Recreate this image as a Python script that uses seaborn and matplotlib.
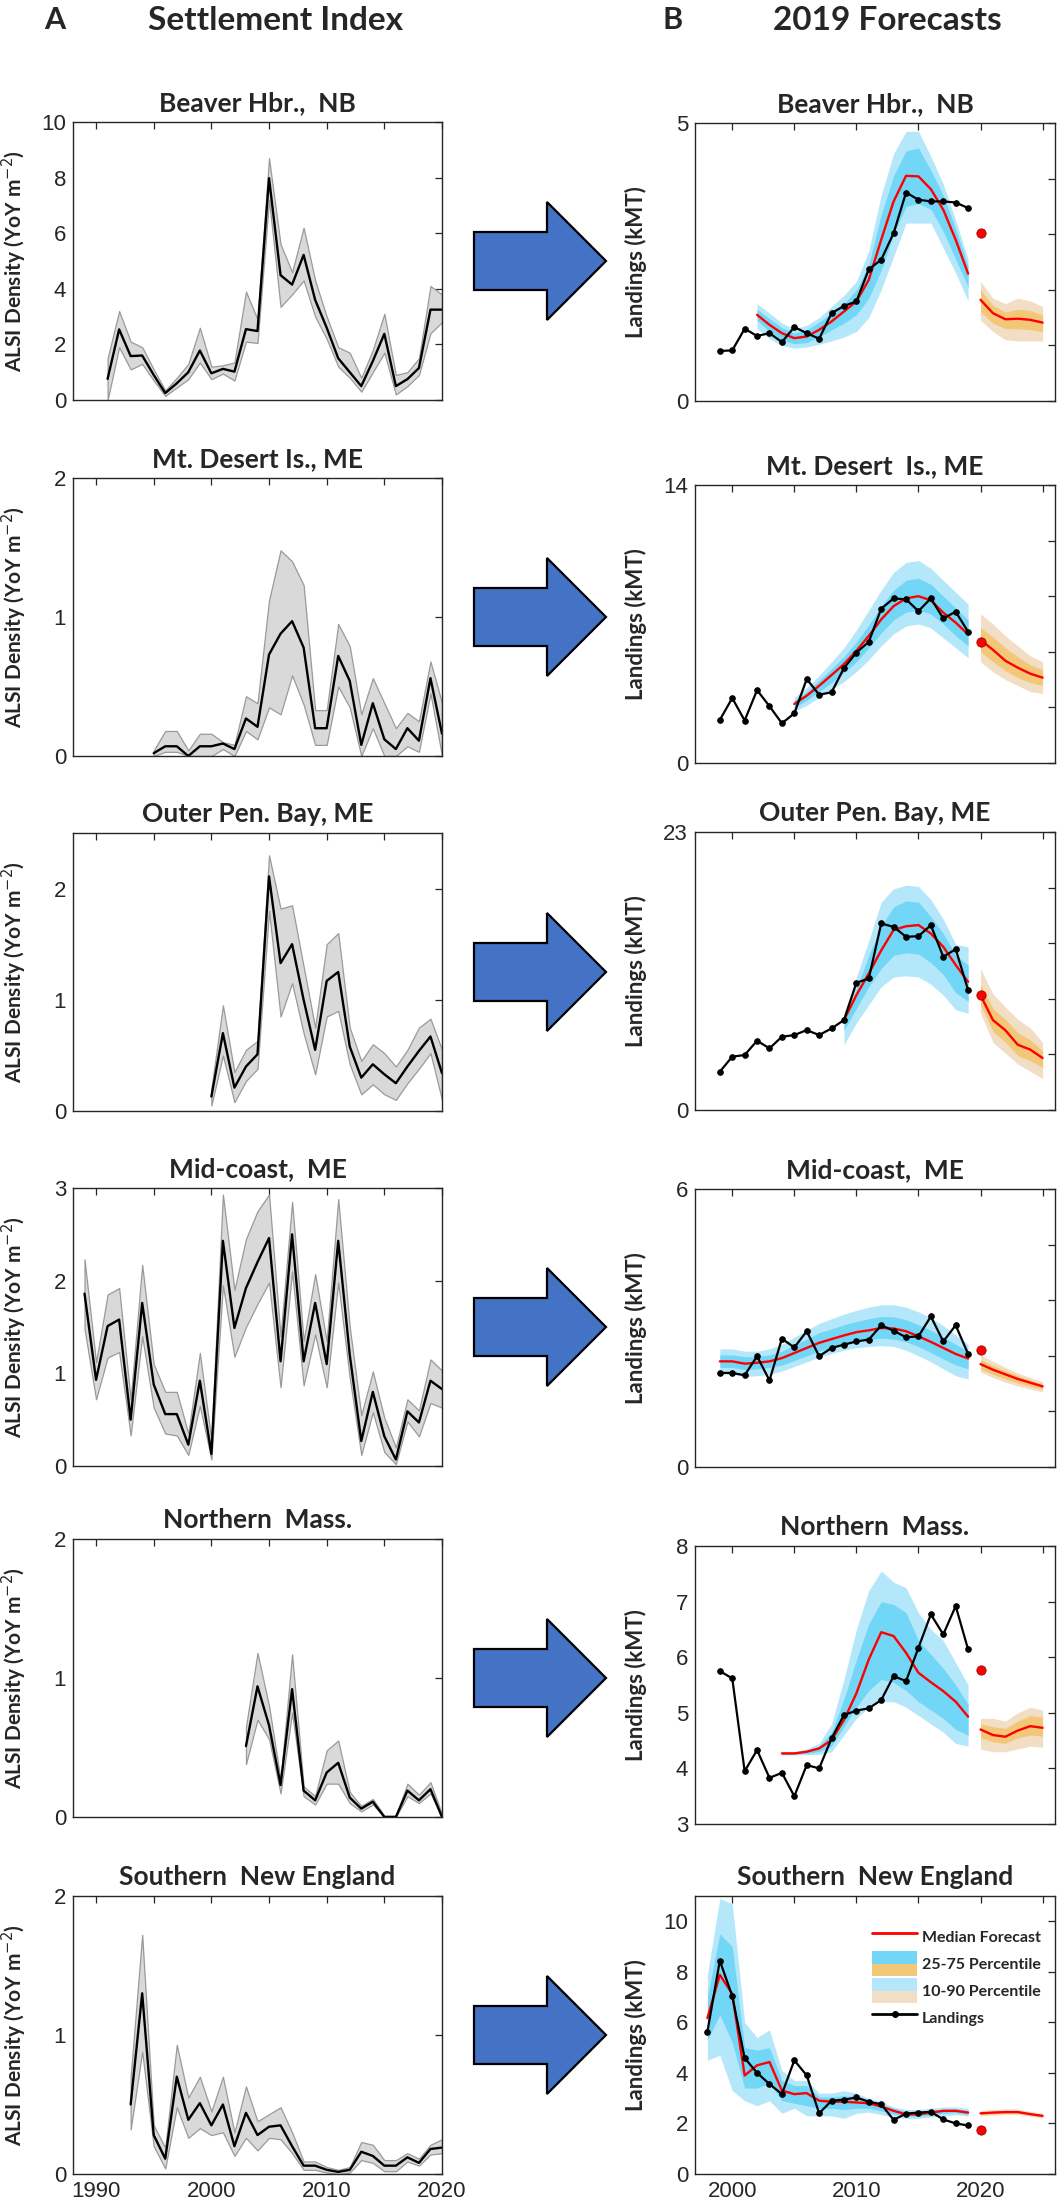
import numpy as np
import matplotlib
matplotlib.use('Agg')
import matplotlib.pyplot as plt
import seaborn as sns
from matplotlib.patches import Polygon, Rectangle, Patch
from matplotlib.lines import Line2D
from matplotlib.legend_handler import HandlerBase

# ---------------- settlement index (panel A) ----------------
beaver_set_start = 1991
beaver_set = [0.76, 2.54, 1.58, 1.6, 0.9, 0.25, 0.6, 1.0, 1.78, 0.96, 1.12, 1.02, 2.55, 2.48, 7.98,
              4.49, 4.15, 5.22, 3.6, 2.6, 1.5, 1.0, 0.5, 1.4, 2.38, 0.5, 0.75, 1.15, 3.25, 3.25]
beaver_set_hi = [1.5, 3.2, 2.1, 1.9, 1.1, 0.35, 0.8, 1.3, 2.6, 1.2, 1.25, 1.35, 3.9, 2.9, 8.7,
                 5.6, 4.6, 6.2, 4.3, 3.0, 1.9, 1.7, 0.8, 1.8, 3.1, 0.9, 1.0, 1.5, 4.1, 3.8]
beaver_set_lo = [0.0, 1.9, 1.1, 1.3, 0.7, 0.15, 0.45, 0.75, 1.35, 0.75, 0.95, 0.7, 2.1, 2.05, 7.2,
                 3.35, 3.8, 4.3, 3.0, 2.2, 1.2, 0.8, 0.3, 1.0, 1.7, 0.2, 0.5, 0.9, 2.4, 2.8]

mdi_set_start = 1995
mdi_set = [0.02, 0.07, 0.07, 0.0, 0.07, 0.07, 0.09, 0.05, 0.27, 0.21, 0.73, 0.88, 0.97, 0.78, 0.2,
           0.2, 0.72, 0.54, 0.08, 0.38, 0.12, 0.05, 0.2, 0.11, 0.56, 0.16]
mdi_set_hi = [0.04, 0.18, 0.18, 0.04, 0.16, 0.16, 0.1, 0.08, 0.43, 0.38, 1.12, 1.48, 1.4, 1.23, 0.33,
              0.33, 0.95, 0.79, 0.3, 0.56, 0.38, 0.2, 0.31, 0.25, 0.68, 0.38]
mdi_set_lo = [0.0, 0.03, 0.03, 0.0, 0.0, 0.0, 0.05, 0.0, 0.18, 0.12, 0.35, 0.3, 0.58, 0.37, 0.08,
              0.08, 0.5, 0.35, 0.0, 0.2, 0.0, 0.0, 0.07, 0.03, 0.45, 0.0]

opb_set_start = 2000
opb_set = [0.13, 0.7, 0.21, 0.4, 0.51, 2.11, 1.33, 1.5, 1.0, 0.55, 1.17, 1.25, 0.58, 0.3, 0.42,
           0.33, 0.25, 0.4, 0.54, 0.67, 0.34]
opb_set_hi = [0.2, 0.95, 0.35, 0.55, 0.63, 2.3, 1.82, 1.85, 1.3, 0.75, 1.5, 1.6, 0.75, 0.45, 0.6,
              0.52, 0.4, 0.55, 0.75, 0.83, 0.55]
opb_set_lo = [0.05, 0.5, 0.08, 0.27, 0.38, 1.8, 0.85, 1.15, 0.7, 0.33, 0.85, 0.9, 0.42, 0.15, 0.24,
              0.15, 0.1, 0.25, 0.38, 0.52, 0.1]

mid_set_start = 1989
mid_set = [1.86, 0.93, 1.51, 1.58, 0.5, 1.76, 0.88, 0.56, 0.56, 0.23, 0.92, 0.13, 2.43, 1.49, 1.92,
           2.2, 2.46, 1.13, 2.5, 1.13, 1.76, 1.1, 2.43, 1.2, 0.27, 0.8, 0.32, 0.07, 0.59, 0.47, 0.92, 0.83]
mid_set_hi = [2.23, 1.12, 1.85, 1.92, 0.72, 2.17, 1.1, 0.8, 0.8, 0.35, 1.22, 0.28, 2.93, 1.9, 2.45,
              2.75, 2.93, 1.4, 2.85, 1.35, 2.07, 1.35, 2.88, 1.5, 0.55, 1.02, 0.52, 0.2, 0.72, 0.6, 1.15, 1.03]
mid_set_lo = [1.48, 0.72, 1.17, 1.23, 0.33, 1.4, 0.63, 0.35, 0.33, 0.12, 0.65, 0.07, 1.95, 1.18, 1.5,
              1.75, 1.98, 0.85, 2.1, 0.87, 1.42, 0.85, 1.98, 0.95, 0.12, 0.58, 0.15, 0.02, 0.48, 0.32, 0.68, 0.63]

nm_set_start = 2003
nm_set = [0.51, 0.94, 0.66, 0.23, 0.92, 0.19, 0.12, 0.32, 0.39, 0.14, 0.06, 0.11, 0.0, 0.0, 0.19, 0.12, 0.2, 0.0]
nm_set_hi = [0.65, 1.18, 0.8, 0.27, 1.17, 0.22, 0.15, 0.48, 0.55, 0.18, 0.08, 0.13, 0.01, 0.01, 0.24, 0.16, 0.25, 0.02]
nm_set_lo = [0.38, 0.7, 0.56, 0.17, 0.75, 0.15, 0.09, 0.24, 0.24, 0.1, 0.04, 0.09, 0.0, 0.0, 0.15, 0.1, 0.17, 0.0]

sne_set_start = 1993
sne_set = [0.5, 1.3, 0.28, 0.11, 0.7, 0.39, 0.51, 0.35, 0.5, 0.2, 0.44, 0.28, 0.34, 0.35, 0.2,
           0.06, 0.06, 0.03, 0.015, 0.03, 0.16, 0.13, 0.06, 0.06, 0.12, 0.08, 0.18, 0.19]
sne_set_hi = [0.7, 1.72, 0.35, 0.19, 0.93, 0.55, 0.7, 0.45, 0.7, 0.3, 0.63, 0.38, 0.43, 0.48, 0.3,
              0.09, 0.09, 0.05, 0.03, 0.05, 0.23, 0.21, 0.1, 0.1, 0.15, 0.11, 0.21, 0.25]
sne_set_lo = [0.32, 0.88, 0.2, 0.04, 0.48, 0.26, 0.33, 0.28, 0.3, 0.13, 0.26, 0.17, 0.26, 0.25, 0.15,
              0.03, 0.03, 0.01, 0.0, 0.01, 0.1, 0.08, 0.02, 0.02, 0.09, 0.06, 0.14, 0.15]

# ---------------- landings + hindcast / forecast (panel B) ----------------
fc_years = [2020, 2021, 2022, 2023, 2024, 2025]

beaver_land_start = 1999
beaver_land = [0.90, 0.91, 1.30, 1.17, 1.22, 1.06, 1.33, 1.22, 1.12, 1.58, 1.71, 1.79, 2.37, 2.54,
               3.02, 3.75, 3.62, 3.59, 3.59, 3.57, 3.47]
beaver_fit_start = 2002
beaver_med = [1.55, 1.37, 1.22, 1.13, 1.16, 1.28, 1.43, 1.61, 1.79, 2.18, 2.90, 3.59, 4.05, 4.04, 3.81, 3.44, 2.90, 2.29]
beaver_p90 = [1.75, 1.58, 1.40, 1.30, 1.36, 1.50, 1.70, 1.90, 2.15, 2.70, 3.70, 4.45, 4.85, 4.85, 4.40, 3.90, 3.25, 2.55]
beaver_p10 = [1.30, 1.12, 1.00, 0.95, 0.97, 1.02, 1.08, 1.15, 1.25, 1.50, 2.00, 2.60, 3.20, 3.20, 3.20, 2.75, 2.30, 1.80]
beaver_p75 = [1.65, 1.48, 1.32, 1.22, 1.28, 1.42, 1.58, 1.75, 2.00, 2.45, 3.35, 4.05, 4.50, 4.55, 4.15, 3.70, 3.10, 2.42]
beaver_p25 = [1.45, 1.25, 1.10, 1.03, 1.05, 1.15, 1.28, 1.40, 1.55, 1.85, 2.35, 3.00, 3.50, 3.55, 3.45, 3.05, 2.55, 2.05]
beaver_obs2020 = 3.03
beaver_fc_med = [1.82, 1.58, 1.47, 1.48, 1.46, 1.41]
beaver_fc_p90 = [2.15, 1.85, 1.75, 1.85, 1.80, 1.70]
beaver_fc_p10 = [1.45, 1.25, 1.10, 1.08, 1.08, 1.08]
beaver_fc_p75 = [2.00, 1.72, 1.60, 1.65, 1.63, 1.55]
beaver_fc_p25 = [1.60, 1.40, 1.30, 1.30, 1.28, 1.25]

mdi_land_start = 1999
mdi_land = [2.17, 3.27, 2.14, 3.67, 2.86, 2.0, 2.5, 4.23, 3.44, 3.56, 4.78, 5.56, 6.1, 7.77, 8.29,
            8.24, 7.65, 8.29, 7.28, 7.62, 6.61]
mdi_fit_start = 2005
mdi_med = [2.97, 3.39, 3.89, 4.43, 4.98, 5.65, 6.4, 7.23, 7.9, 8.29, 8.4, 8.19, 7.57, 7.07, 6.48]
mdi_p90 = [3.3, 3.8, 4.4, 5.1, 5.8, 6.7, 7.7, 8.7, 9.6, 10.1, 10.2, 9.8, 9.2, 8.6, 8.0]
mdi_p10 = [2.6, 2.9, 3.3, 3.7, 4.1, 4.6, 5.2, 5.9, 6.5, 6.9, 7.0, 6.8, 6.3, 5.8, 5.3]
mdi_p75 = [3.15, 3.6, 4.15, 4.75, 5.35, 6.1, 6.95, 7.9, 8.7, 9.2, 9.3, 9.0, 8.4, 7.8, 7.2]
mdi_p25 = [2.8, 3.15, 3.6, 4.05, 4.55, 5.1, 5.8, 6.55, 7.2, 7.6, 7.7, 7.5, 7.0, 6.4, 5.9]
mdi_obs2020 = 6.1
mdi_fc_med = [6.2, 5.7, 5.15, 4.8, 4.5, 4.3]
mdi_fc_p90 = [7.5, 7.0, 6.4, 5.9, 5.4, 5.1]
mdi_fc_p10 = [5.1, 4.6, 4.2, 3.9, 3.6, 3.5]
mdi_fc_p75 = [6.8, 6.35, 5.8, 5.35, 4.95, 4.7]
mdi_fc_p25 = [5.6, 5.1, 4.65, 4.3, 4.05, 3.9]

opb_land_start = 1999
opb_land = [3.17, 4.41, 4.55, 5.73, 5.1, 6.06, 6.2, 6.61, 6.2, 6.75, 7.44, 10.52, 10.88, 15.43,
            15.15, 14.33, 14.38, 15.29, 12.67, 13.31, 9.92]
opb_fit_start = 2009
opb_med = [7.44, 9.5, 11.3, 13.2, 14.9, 15.2, 15.3, 14.6, 13.5, 12.0, 10.6]
opb_p90 = [8.0, 11.0, 14.0, 17.2, 18.3, 18.6, 18.5, 17.4, 15.8, 13.7, 13.5]
opb_p10 = [5.4, 7.2, 8.7, 10.2, 11.0, 11.1, 11.0, 10.4, 9.5, 8.3, 8.0]
opb_p75 = [7.6, 10.0, 12.8, 15.2, 16.8, 17.3, 17.2, 16.0, 14.6, 12.8, 12.0]
opb_p25 = [6.6, 8.4, 10.2, 11.7, 12.8, 13.0, 12.9, 12.2, 11.2, 9.7, 9.0]
opb_obs2020 = 9.5
opb_fc_med = [9.5, 7.44, 6.6, 5.4, 5.0, 4.3]
opb_fc_p90 = [11.7, 9.6, 8.5, 7.5, 6.8, 5.6]
opb_fc_p10 = [8.0, 5.6, 4.7, 3.8, 3.2, 2.6]
opb_fc_p75 = [10.4, 8.4, 7.5, 6.4, 5.8, 4.9]
opb_fc_p25 = [8.7, 6.5, 5.6, 4.5, 4.1, 3.5]

mid_land_start = 1999
mid_land = [2.03, 2.03, 1.98, 2.39, 1.87, 2.77, 2.58, 2.93, 2.39, 2.57, 2.64, 2.71, 2.75, 3.06,
            2.94, 2.8, 2.82, 3.25, 2.71, 3.06, 2.44]
mid_fit_start = 1999
mid_med = [2.28, 2.28, 2.23, 2.25, 2.28, 2.35, 2.46, 2.57, 2.68, 2.76, 2.84, 2.91, 2.95, 3.0,
           2.99, 2.93, 2.82, 2.7, 2.57, 2.44, 2.34]
mid_p90 = [2.55, 2.55, 2.5, 2.5, 2.55, 2.65, 2.8, 2.95, 3.1, 3.2, 3.3, 3.38, 3.45, 3.5,
           3.5, 3.45, 3.35, 3.22, 3.05, 2.85, 2.65]
mid_p10 = [2.0, 2.0, 1.95, 1.97, 2.0, 2.07, 2.17, 2.27, 2.37, 2.45, 2.52, 2.57, 2.6, 2.62,
           2.6, 2.52, 2.4, 2.27, 2.12, 1.97, 1.9]
mid_p75 = [2.42, 2.42, 2.38, 2.38, 2.42, 2.5, 2.63, 2.76, 2.9, 2.98, 3.07, 3.14, 3.2, 3.25,
           3.24, 3.18, 3.07, 2.95, 2.8, 2.65, 2.5]
mid_p25 = [2.15, 2.15, 2.1, 2.12, 2.15, 2.2, 2.3, 2.4, 2.5, 2.58, 2.65, 2.72, 2.75, 2.78,
           2.76, 2.7, 2.6, 2.47, 2.33, 2.2, 2.12]
mid_obs2020 = 2.53
mid_fc_med = [2.22, 2.1, 2.0, 1.9, 1.82, 1.74]
mid_fc_p90 = [2.42, 2.28, 2.15, 2.03, 1.93, 1.84]
mid_fc_p10 = [2.05, 1.93, 1.83, 1.75, 1.68, 1.62]
mid_fc_p75 = [2.32, 2.19, 2.08, 1.97, 1.88, 1.79]
mid_fc_p25 = [2.12, 2.0, 1.9, 1.81, 1.74, 1.68]

nm_land_start = 1999
nm_land = [5.75, 5.62, 3.95, 4.33, 3.83, 3.92, 3.5, 4.06, 4.0, 4.54, 4.96, 5.04, 5.08, 5.23,
           5.66, 5.57, 6.17, 6.77, 6.41, 6.92, 6.14]
nm_fit_start = 2004
nm_med = [4.27, 4.27, 4.3, 4.36, 4.51, 4.87, 5.35, 5.96, 6.45, 6.38, 6.08, 5.72, 5.55, 5.39, 5.2, 4.93]
nm_p90 = [4.3, 4.3, 4.35, 4.45, 4.8, 5.6, 6.5, 7.2, 7.55, 7.35, 7.25, 6.8, 6.5, 6.3, 5.9, 5.5]
nm_p10 = [4.24, 4.24, 4.25, 4.25, 4.3, 4.6, 4.9, 5.1, 5.2, 5.2, 5.1, 4.95, 4.8, 4.65, 4.45, 4.4]
nm_p75 = [4.29, 4.29, 4.32, 4.4, 4.65, 5.25, 5.95, 6.6, 7.0, 6.95, 6.8, 6.3, 6.05, 5.8, 5.5, 5.15]
nm_p25 = [4.25, 4.25, 4.27, 4.3, 4.4, 4.75, 5.1, 5.4, 5.6, 5.55, 5.4, 5.2, 5.05, 4.9, 4.7, 4.6]
nm_obs2020 = 5.77
nm_fc_med = [4.7, 4.6, 4.57, 4.68, 4.76, 4.73]
nm_fc_p90 = [4.9, 4.9, 4.85, 5.0, 5.1, 5.05]
nm_fc_p10 = [4.35, 4.3, 4.3, 4.35, 4.4, 4.38]
nm_fc_p75 = [4.8, 4.75, 4.72, 4.85, 4.95, 4.92]
nm_fc_p25 = [4.55, 4.48, 4.45, 4.55, 4.6, 4.58]

sne_land_start = 1998
sne_land = [5.63, 8.44, 7.04, 4.59, 4.0, 3.56, 3.16, 4.5, 3.9, 2.4, 2.9, 2.94, 3.03, 2.86, 2.76,
            2.14, 2.39, 2.43, 2.46, 2.16, 2.0, 1.92]
sne_fit_start = 1998
sne_med = [6.17, 7.88, 7.13, 3.9, 4.3, 4.43, 3.3, 3.16, 3.2, 2.9, 2.86, 2.86, 2.83, 2.8, 2.67,
           2.5, 2.36, 2.36, 2.43, 2.5, 2.5, 2.43]
sne_p90 = [7.9, 10.9, 10.7, 6.0, 5.4, 5.7, 4.1, 3.7, 3.7, 3.2, 3.2, 3.3, 3.2, 3.0, 2.85,
           2.65, 2.55, 2.55, 2.6, 2.65, 2.65, 2.6]
sne_p10 = [4.5, 4.7, 3.3, 2.9, 2.7, 2.9, 2.4, 2.6, 2.3, 2.3, 2.3, 2.2, 2.4, 2.45, 2.35,
           2.25, 2.2, 2.2, 2.25, 2.3, 2.35, 2.3]
sne_p75 = [7.0, 9.5, 9.0, 5.0, 4.9, 5.0, 3.7, 3.5, 3.5, 3.05, 3.05, 3.1, 3.05, 2.9, 2.75,
           2.6, 2.47, 2.47, 2.52, 2.57, 2.58, 2.52]
sne_p25 = [5.3, 6.3, 5.2, 3.4, 3.4, 3.6, 2.9, 2.8, 2.7, 2.6, 2.6, 2.55, 2.6, 2.6, 2.5,
           2.38, 2.28, 2.28, 2.33, 2.4, 2.43, 2.35]
sne_obs2020 = 1.76
sne_fc_med = [2.4, 2.43, 2.45, 2.45, 2.37, 2.3]
sne_fc_p90 = [2.52, 2.55, 2.57, 2.57, 2.48, 2.4]
sne_fc_p10 = [2.3, 2.33, 2.35, 2.35, 2.28, 2.22]
sne_fc_p75 = [2.46, 2.49, 2.51, 2.51, 2.42, 2.35]
sne_fc_p25 = [2.35, 2.38, 2.4, 2.4, 2.33, 2.26]

left_titles = ['Beaver Hbr.,  NB', 'Mt. Desert Is., ME', 'Outer Pen. Bay, ME',
               'Mid-coast,  ME', 'Northern  Mass.', 'Southern  New England']
right_titles = ['Beaver Hbr.,  NB', 'Mt. Desert  Is., ME', 'Outer Pen. Bay, ME',
                'Mid-coast,  ME', 'Northern  Mass.', 'Southern  New England']
left_ylims = [(0, 10), (0, 2), (0, 2.5), (0, 3), (0, 2), (0, 2)]
left_yticks = [[0, 2, 4, 6, 8, 10], [0, 1, 2], [0, 1, 2], [0, 1, 2, 3], [0, 1, 2], [0, 1, 2]]
right_ymax = [5, 14, 23, 6]

# ---------------- style ----------------
sns.set_style('white')
plt.rcParams['font.family'] = ['Liberation Sans', 'DejaVu Sans']
BOLD = ['Lato', 'DejaVu Sans']
LBLUE, MBLUE = '#b5e7fb', '#72d6f6'
LORNG, MORNG = '#f2dec5', '#f2c878'
TXT = '#262626'

W, H = 1063, 2209
fig = plt.figure(figsize=(W / 100, H / 100), dpi=100)
left_tops = [122, 478, 833, 1188, 1539, 1896]
right_tops = [123, 485, 832, 1189, 1546, 1896]
AX_H = 278


def add_ax(x0, x1, top):
    return fig.add_axes([x0 / W, 1 - (top + AX_H) / H, (x1 - x0) / W, AX_H / H])


def style(ax):
    for s in ax.spines.values():
        s.set_color(TXT)
        s.set_linewidth(1.0)
    ax.tick_params(direction='in', top=True, right=True, length=5, width=0.9,
                   labelsize=16, colors=TXT, pad=5)


settle = [(beaver_set_start, beaver_set, beaver_set_lo, beaver_set_hi),
          (mdi_set_start, mdi_set, mdi_set_lo, mdi_set_hi),
          (opb_set_start, opb_set, opb_set_lo, opb_set_hi),
          (mid_set_start, mid_set, mid_set_lo, mid_set_hi),
          (nm_set_start, nm_set, nm_set_lo, nm_set_hi),
          (sne_set_start, sne_set, sne_set_lo, sne_set_hi)]

fcast = [(beaver_land_start, beaver_land, beaver_fit_start, beaver_med, beaver_p10, beaver_p25, beaver_p75, beaver_p90,
          beaver_obs2020, beaver_fc_med, beaver_fc_p10, beaver_fc_p25, beaver_fc_p75, beaver_fc_p90),
         (mdi_land_start, mdi_land, mdi_fit_start, mdi_med, mdi_p10, mdi_p25, mdi_p75, mdi_p90,
          mdi_obs2020, mdi_fc_med, mdi_fc_p10, mdi_fc_p25, mdi_fc_p75, mdi_fc_p90),
         (opb_land_start, opb_land, opb_fit_start, opb_med, opb_p10, opb_p25, opb_p75, opb_p90,
          opb_obs2020, opb_fc_med, opb_fc_p10, opb_fc_p25, opb_fc_p75, opb_fc_p90),
         (mid_land_start, mid_land, mid_fit_start, mid_med, mid_p10, mid_p25, mid_p75, mid_p90,
          mid_obs2020, mid_fc_med, mid_fc_p10, mid_fc_p25, mid_fc_p75, mid_fc_p90),
         (nm_land_start, nm_land, nm_fit_start, nm_med, nm_p10, nm_p25, nm_p75, nm_p90,
          nm_obs2020, nm_fc_med, nm_fc_p10, nm_fc_p25, nm_fc_p75, nm_fc_p90),
         (sne_land_start, sne_land, sne_fit_start, sne_med, sne_p10, sne_p25, sne_p75, sne_p90,
          sne_obs2020, sne_fc_med, sne_fc_p10, sne_fc_p25, sne_fc_p75, sne_fc_p90)]


class SplitBox(HandlerBase):
    # legend key: coloured box split into a blue top half and an orange bottom half
    def __init__(self, top, low):
        super().__init__()
        self.top, self.low = top, low

    def create_artists(self, legend, orig, xd, yd, width, height, fontsize, trans):
        h = height / 2
        return [Rectangle((-xd, -yd + h), width, h, facecolor=self.top, lw=0, transform=trans),
                Rectangle((-xd, -yd), width, h, facecolor=self.low, lw=0, transform=trans)]


for i in range(6):
    bottom = i == 5

    # ---- settlement index ----
    ax = add_ax(73, 442, left_tops[i])
    start, val, lo, hi = settle[i]
    yrs = np.arange(start, start + len(val))
    ax.fill_between(yrs, lo, hi, facecolor='#d9d9d9', edgecolor='#9a9a9a', lw=0.9)
    sns.lineplot(x=yrs, y=val, ax=ax, color='black', lw=1.7)
    ax.set_xlim(1988, 2020)
    ax.set_ylim(*left_ylims[i])
    ax.set_xticks(range(1990, 2021, 5))
    ax.set_xticklabels([str(y) if (bottom and y % 10 == 0) else '' for y in range(1990, 2021, 5)])
    ax.set_yticks(left_yticks[i])
    ax.set_yticklabels([f'{t:g}' for t in left_yticks[i]])
    style(ax)
    ax.set_title(left_titles[i], family=BOLD, weight='bold', fontsize=19, pad=8)
    ax.set_ylabel('ALSI Density (YoY m$^{-2}$)', family=BOLD, weight='bold', fontsize=15)
    ax.yaxis.set_label_coords(-0.118, 0.5)

    # ---- forecasts ----
    ax = add_ax(695, 1055, right_tops[i])
    (ls, land, fs, med, p10, p25, p75, p90, obs, fmed, f10, f25, f75, f90) = fcast[i]
    lyrs = np.arange(ls, ls + len(land))
    fyrs = np.arange(fs, fs + len(med))
    ax.fill_between(fyrs, p10, p90, color=LBLUE, lw=0)
    ax.fill_between(fyrs, p25, p75, color=MBLUE, lw=0)
    ax.fill_between(fc_years, f10, f90, color=LORNG, lw=0)
    ax.fill_between(fc_years, f25, f75, color=MORNG, lw=0)
    sns.lineplot(x=fyrs, y=med, ax=ax, color='red', lw=1.7)
    sns.lineplot(x=fc_years, y=fmed, ax=ax, color='red', lw=1.7)
    sns.lineplot(x=lyrs, y=land, ax=ax, color='black', lw=1.6, marker='o',
                 markersize=4, markeredgecolor='black')
    sns.scatterplot(x=[2020], y=[obs], ax=ax, color='red', edgecolor='#8b0000', s=45, zorder=5)
    ax.set_xlim(1997, 2026)
    ax.set_xticks(range(2000, 2026, 5))
    ax.set_xticklabels([str(y) if (bottom and y % 10 == 0) else '' for y in range(2000, 2026, 5)])
    if i < 4:
        ymax = right_ymax[i]
        ticks = np.linspace(0, ymax, 6)
        ax.set_ylim(0, ymax)
        ax.set_yticks(ticks)
        ax.set_yticklabels(['0', '', '', '', '', str(ymax)])
    elif i == 4:
        ax.set_ylim(3, 8)
        ax.set_yticks(range(3, 9))
        ax.set_yticklabels([str(t) for t in range(3, 9)])
    else:
        ax.set_ylim(0, 11)
        ax.set_yticks(range(0, 11, 2))
        ax.set_yticklabels([str(t) for t in range(0, 11, 2)])
    style(ax)
    ax.set_title(right_titles[i], family=BOLD, weight='bold', fontsize=19, pad=8)
    ax.set_ylabel('Landings (kMT)', family=BOLD, weight='bold', fontsize=16)
    ax.yaxis.set_label_coords(-0.133, 0.5)

    if bottom:
        inner, outer = Patch(), Patch()
        handles = [Line2D([], [], color='red', lw=2), inner, outer,
                   Line2D([], [], color='black', lw=2, marker='o', markersize=4)]
        labels = ['Median Forecast', '25-75 Percentile', '10-90 Percentile', 'Landings']
        ax.legend(handles, labels, loc='upper right', bbox_to_anchor=(1.0, 0.95), frameon=False,
                  prop={'family': BOLD, 'weight': 'bold', 'size': 11.5},
                  handlelength=2.8, handleheight=2.0, labelspacing=0.15, handletextpad=0.3,
                  handler_map={inner: SplitBox(MBLUE, MORNG), outer: SplitBox(LBLUE, LORNG)})

    # ---- arrow between the columns ----
    cy = left_tops[i] + AX_H / 2
    pts = [(474, cy - 29), (547, cy - 29), (547, cy - 59), (606, cy),
           (547, cy + 59), (547, cy + 29), (474, cy + 29)]
    fig.add_artist(Polygon([(x / W, 1 - y / H) for x, y in pts], closed=True,
                           transform=fig.transFigure, facecolor='#4472c4',
                           edgecolor='black', lw=1.6))

# column headers
fig.text(55 / W, 1 - 20 / H, 'A', family=BOLD, weight='bold', fontsize=22, ha='center', va='center')
fig.text(275 / W, 1 - 20 / H, 'Settlement Index', family=BOLD, weight='bold', fontsize=24,
         ha='center', va='center')
fig.text(673 / W, 1 - 20 / H, 'B', family=BOLD, weight='bold', fontsize=22, ha='center', va='center')
fig.text(887 / W, 1 - 20 / H, '2019 Forecasts', family=BOLD, weight='bold', fontsize=24,
         ha='center', va='center')

fig.savefig('out.png', dpi=100, facecolor='white')
